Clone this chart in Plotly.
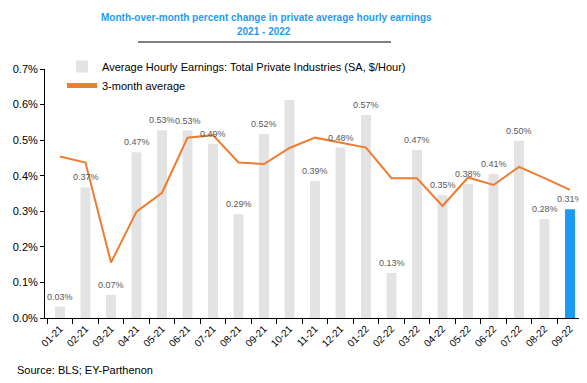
import plotly.graph_objects as go

months = ["01-21","02-21","03-21","04-21","05-21","06-21","07-21","08-21","09-21","10-21","11-21","12-21",
          "01-22","02-22","03-22","04-22","05-22","06-22","07-22","08-22","09-22"]
ahe_pct = [0.032,0.367,0.065,0.466,0.528,0.527,0.489,0.292,0.517,0.613,0.385,0.479,
           0.571,0.127,0.472,0.346,0.377,0.405,0.498,0.278,0.306]
avg3_pct = [0.454,0.437,0.156,0.299,0.352,0.507,0.514,0.437,0.433,0.478,0.507,0.493,
            0.479,0.393,0.393,0.315,0.395,0.374,0.425,0.393,0.360]
label_shown = [True]*9 + [False] + [True]*11

FONT = "Arial, Liberation Sans, sans-serif"
GRAY = "#e3e3e3"
BLUE = "#1a9af5"
ORANGE = "#ed7d31"

ahe = [v/100 for v in ahe_pct]
avg3 = [v/100 for v in avg3_pct]
colors = [GRAY]*(len(months)-1) + [BLUE]

fig = go.Figure()
fig.add_trace(go.Bar(
    x=months, y=ahe, name="Average Hourly Earnings: Total Private Industries (SA, $/Hour)",
    marker=dict(color=colors, line=dict(width=0)), hoverinfo="skip"))
fig.add_trace(go.Scatter(
    x=months, y=avg3, name="3-month average", mode="lines",
    line=dict(color=ORANGE, width=2), hoverinfo="skip"))

# page body has an 8px margin; work in reference pixel coords shifted by 8
OFF = 8
W, H = 587-OFF, 383-OFF
L, T = 45-OFF, 69-OFF
R = W-(585-OFF)
B = H-(318-OFF)
pw, ph = W-L-R, H-T-B
def px(x): return (x-OFF-L)/pw
def py(y): return (H-B-(y-OFF))/ph

annotations = []
for m, v, p, s in zip(months, ahe, ahe_pct, label_shown):
    if s:
        annotations.append(dict(text=f"{p:.2f}%", x=m, y=v, xref="x", yref="y",
                                showarrow=False, xanchor="center", yanchor="bottom", yshift=3,
                                font=dict(size=9, color="#595959", family=FONT)))
annotations += [
    dict(text="<b>Month-over-month percent change in private average hourly earnings</b>",
         x=px(266), y=py(17), xref="paper", yref="paper", showarrow=False,
         xanchor="center", yanchor="middle", font=dict(size=10, color="#1f9bf0", family=FONT)),
    dict(text="<b>2021 - 2022</b>",
         x=px(264), y=py(32), xref="paper", yref="paper", showarrow=False,
         xanchor="center", yanchor="middle", font=dict(size=10, color="#1f9bf0", family=FONT)),
    dict(text="Source: BLS; EY-Parthenon",
         x=px(15), y=py(370), xref="paper", yref="paper", showarrow=False,
         xanchor="left", yanchor="middle", font=dict(size=11, color="#000", family=FONT)),
]

fig.update_layout(
    width=W, height=H, margin=dict(l=L, r=R, t=T, b=B, autoexpand=False),
    paper_bgcolor="white", plot_bgcolor="white",
    font=dict(family=FONT, size=11, color="#000"),
    bargap=0.61, showlegend=True,
    legend=dict(x=px(62), y=py(52), xanchor="left", yanchor="top",
                bgcolor="rgba(0,0,0,0)", font=dict(size=11, family=FONT),
                tracegroupgap=0, itemsizing="constant"),
    xaxis=dict(type="category", showline=True, linecolor="#000", linewidth=1,
               ticks="outside", tickson="boundaries", ticklen=5, tickcolor="#000",
               tickangle=-45, tickfont=dict(size=10, family=FONT), showgrid=False,
               automargin=False),
    yaxis=dict(range=[0, 0.007], dtick=0.001, tickformat=".1%", showline=True,
               linecolor="#000", linewidth=1, ticks="outside", ticklen=4, tickcolor="#000",
               showgrid=False, zeroline=False, tickfont=dict(size=11, family=FONT),
               automargin=False),
    annotations=annotations,
    shapes=[dict(type="line", xref="paper", yref="paper", x0=px(138), x1=px(391),
                 y0=py(42), y1=py(42), line=dict(color="#000", width=1))],
)
fig.write_html("out.html")
